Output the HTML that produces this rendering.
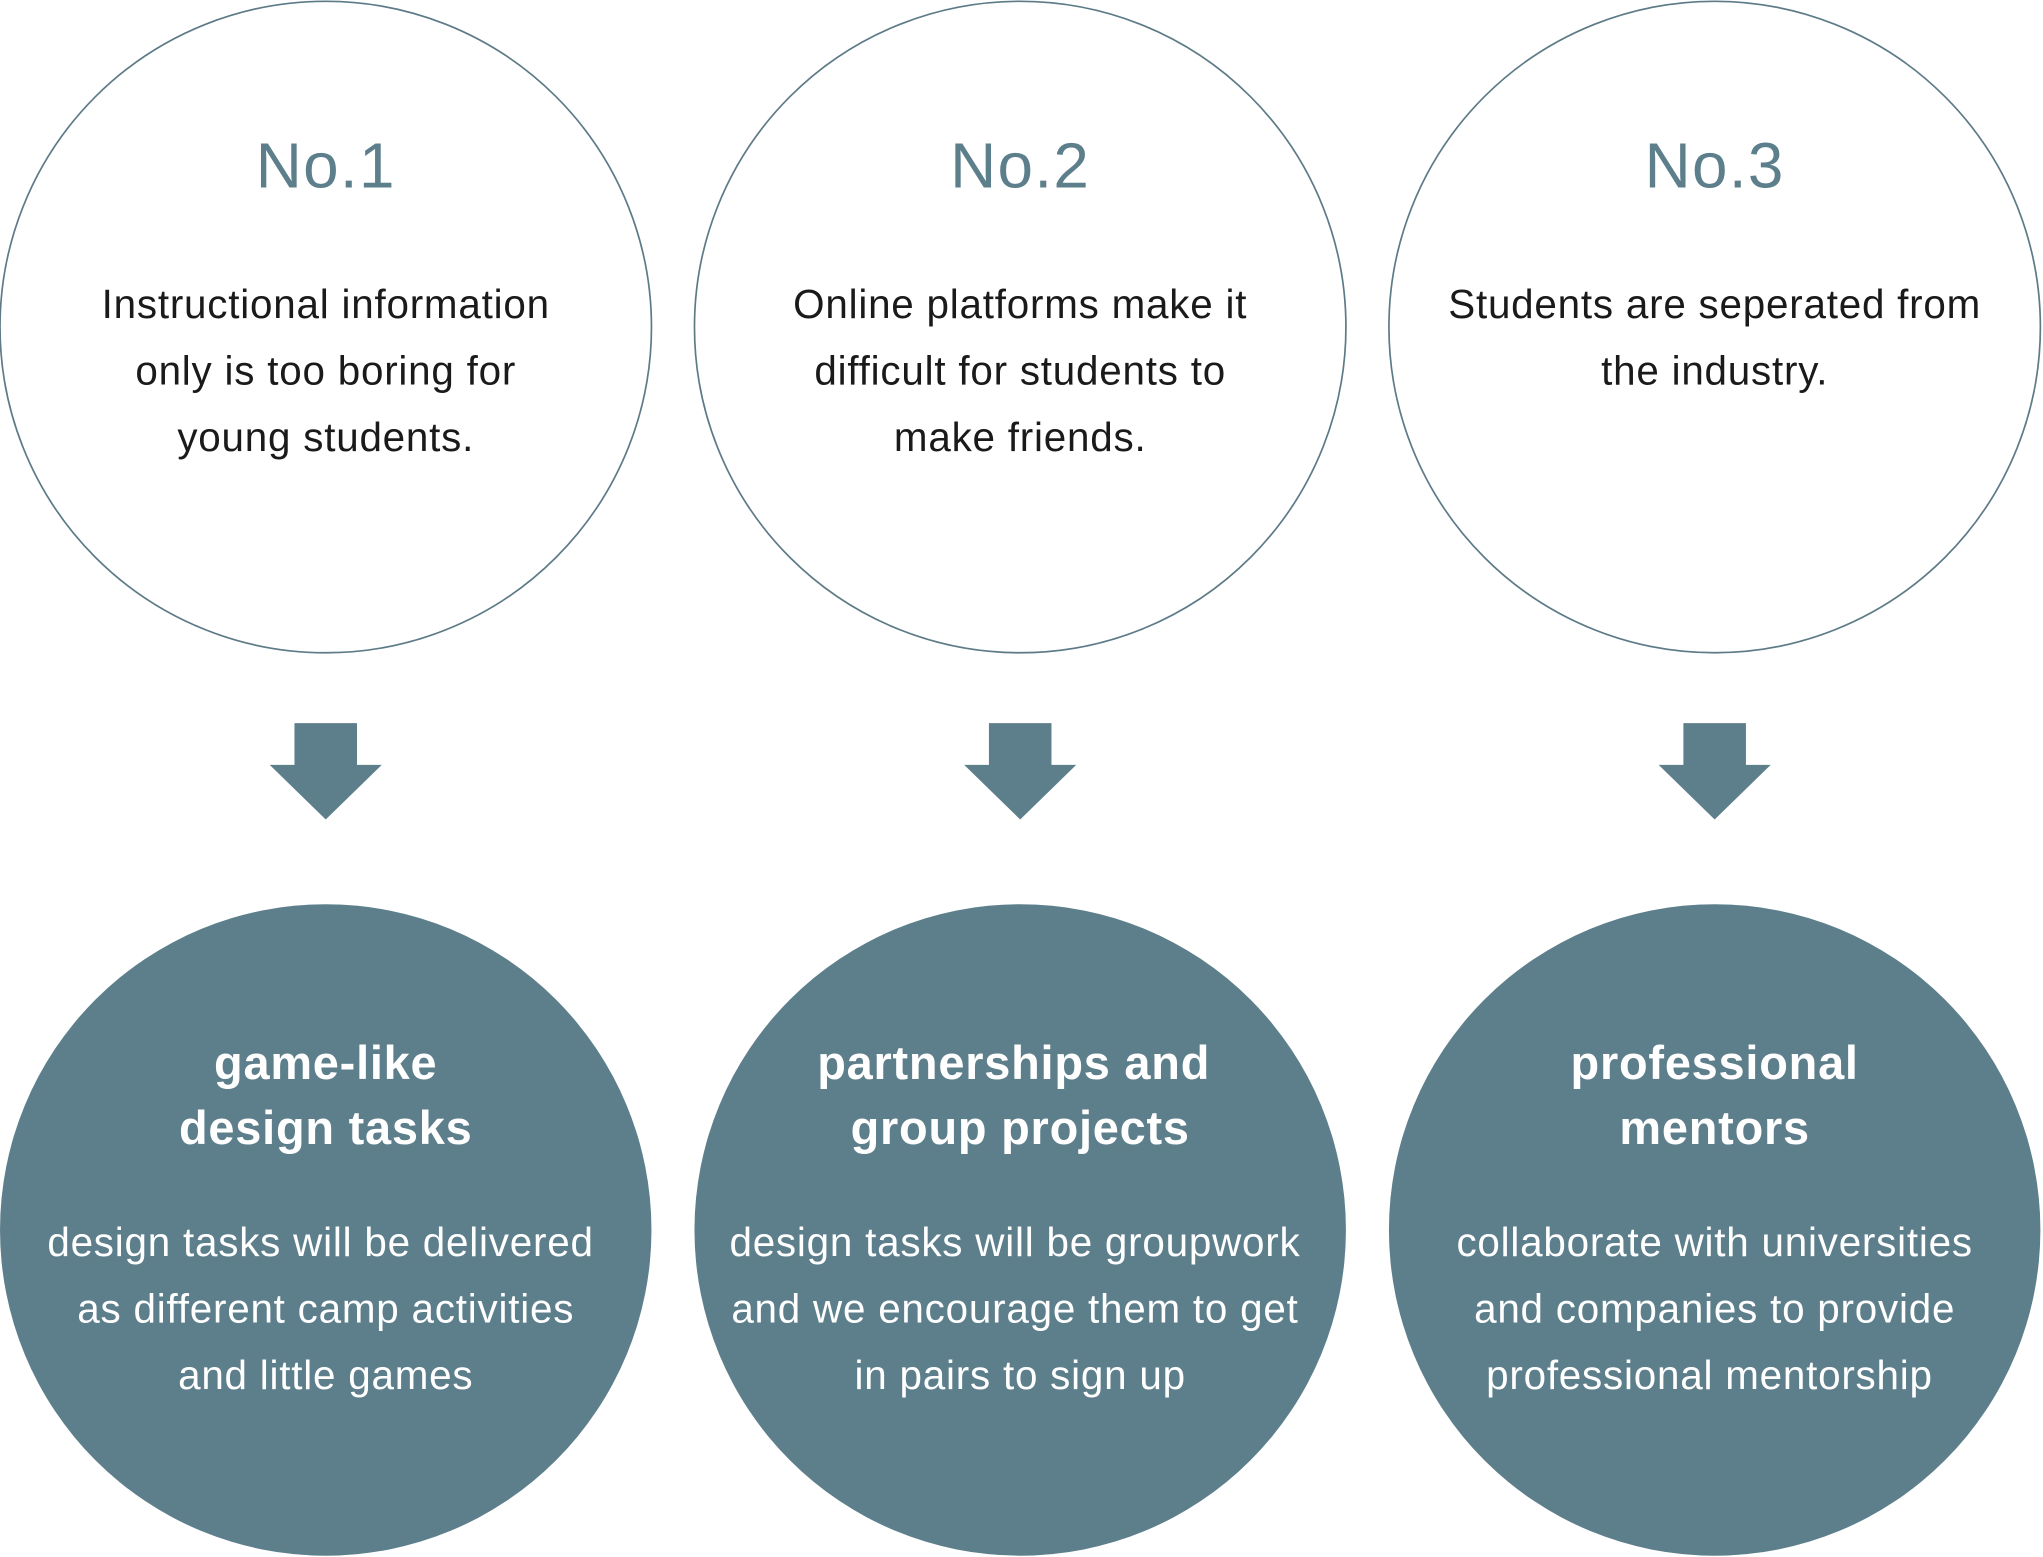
<!DOCTYPE html>
<html><head><meta charset="utf-8"><style>
html,body{margin:0;padding:0;background:#fff;}
svg{display:block;}
text{font-family:"Liberation Sans",sans-serif;text-anchor:middle;}
.no{font-size:49px;fill:#5d7f8c;font-weight:300;letter-spacing:1px;}
.t{font-size:31px;fill:#1a1a1a;letter-spacing:0.6px;}
.h{font-size:36px;fill:#fff;font-weight:bold;letter-spacing:0.6px;}
.b{font-size:31px;fill:#fff;letter-spacing:0.6px;}
</style></head><body>
<svg width="2043" height="1557" viewBox="0 0 1568 1195" xmlns="http://www.w3.org/2000/svg">
<g fill="none" stroke="#5d7a87" stroke-width="1.3">
<circle cx="250" cy="251" r="250"/>
<circle cx="783" cy="251" r="250"/>
<circle cx="1316" cy="251" r="250"/>
</g>
<g fill="#5d7f8c">
<circle cx="250" cy="944" r="250"/>
<circle cx="783" cy="944" r="250"/>
<circle cx="1316" cy="944" r="250"/>
<polygon points="226,555 274,555 274,587 293,587 250,629 207,587 226,587"/>
<polygon points="759,555 807,555 807,587 826,587 783,629 740,587 759,587"/>
<polygon points="1292,555 1340,555 1340,587 1359,587 1316,629 1273,587 1292,587"/>
</g>
<text class="no" x="250" y="144">No.1</text>
<text class="no" x="783" y="144">No.2</text>
<text class="no" x="1316" y="144">No.3</text>
<text class="t" x="250" y="244">Instructional information</text>
<text class="t" x="250" y="295">only is too boring for</text>
<text class="t" x="250" y="346">young students.</text>
<text class="t" x="783" y="244">Online platforms make it</text>
<text class="t" x="783" y="295">difficult for students to</text>
<text class="t" x="783" y="346">make friends.</text>
<text class="t" x="1316" y="244">Students are seperated from</text>
<text class="t" x="1316" y="295">the industry.</text>
<text class="h" x="250" y="828">game-like</text>
<text class="h" x="250" y="878">design tasks</text>
<text class="h" x="778" y="828">partnerships and</text>
<text class="h" x="783" y="878">group projects</text>
<text class="h" x="1316" y="828">professional</text>
<text class="h" x="1316" y="878">mentors</text>
<text class="b" x="246" y="964">design tasks will be delivered</text>
<text class="b" x="250" y="1015">as different camp activities</text>
<text class="b" x="250" y="1066">and little games</text>
<text class="b" x="779" y="964">design tasks will be groupwork</text>
<text class="b" x="779" y="1015">and we encourage them to get</text>
<text class="b" x="783" y="1066">in pairs to sign up</text>
<text class="b" x="1316" y="964">collaborate with universities</text>
<text class="b" x="1316" y="1015">and companies to provide</text>
<text class="b" x="1312" y="1066">professional mentorship</text>
</svg>
</body></html>
